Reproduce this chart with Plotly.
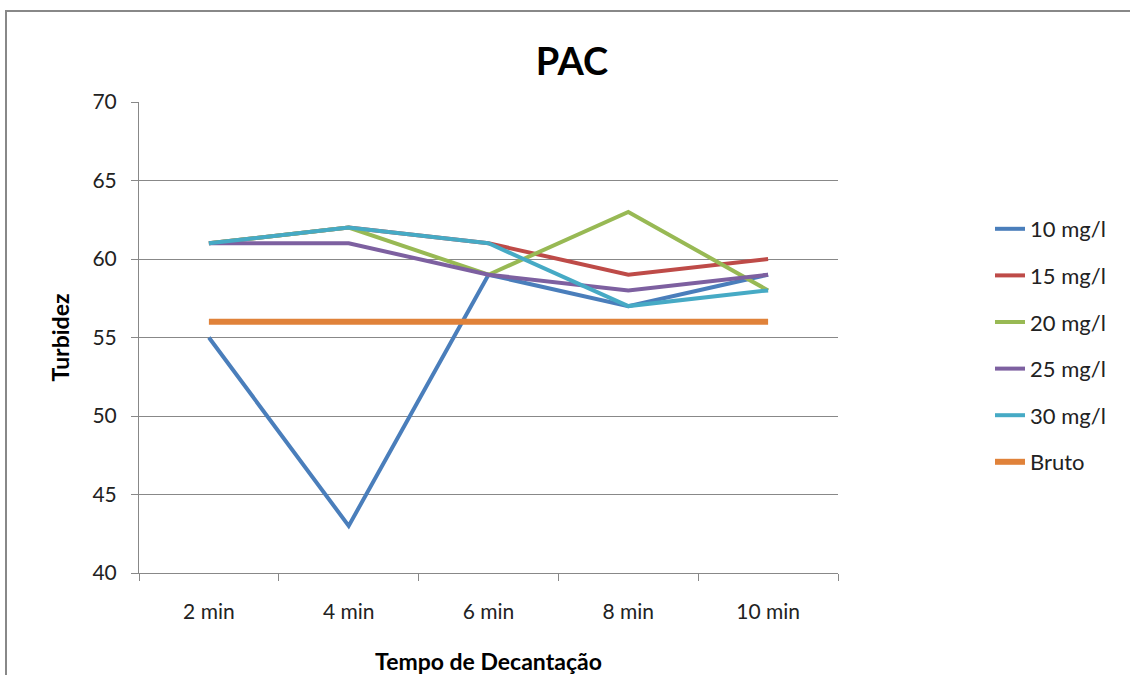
import plotly.graph_objects as go

categories = ["2 min", "4 min", "6 min", "8 min", "10 min"]
s10 = [55, 43, 59, 57, 59]
s15 = [61, 62, 61, 59, 60]
s20 = [61, 62, 59, 63, 58]
s25 = [61, 61, 59, 58, 59]
s30 = [61, 62, 61, 57, 58]
bruto = [56, 56, 56, 56, 56]

series = [
    ("10 mg/l", s10, "#4a7ebb", 4),
    ("15 mg/l", s15, "#be4b48", 4),
    ("20 mg/l", s20, "#98b954", 4),
    ("25 mg/l", s25, "#7d60a0", 4),
    ("30 mg/l", s30, "#46aac5", 4),
    ("Bruto", bruto, "#e0823a", 6),
]

FONT = "Lato, Carlito, 'Liberation Sans', sans-serif"

fig = go.Figure()
for i, (name, vals, color, w) in enumerate(series):
    fig.add_trace(go.Scatter(
        x=categories, y=vals, name=name, mode="lines",
        line=dict(color=color, width=w),
        legendgroup=f"g{i}",
    ))

W, H = 1130, 675
L, R, T, B = 139, 838, 102, 573
pw, ph = R - L, B - T

fig.update_layout(
    width=W, height=H,
    margin=dict(l=L, r=W - R, t=T, b=H - B),
    paper_bgcolor="white", plot_bgcolor="white",
    font=dict(family=FONT, size=21, color="#222"),
    title=dict(text="<b>PAC</b>", x=572 / W, xanchor="center",
               y=1 - 62 / H, yanchor="middle",
               font=dict(size=38, color="#000", family=FONT)),
    showlegend=True,
    legend=dict(x=(990 - L) / pw, xanchor="left", y=(B - 208) / ph, yanchor="top",
                font=dict(size=22, family=FONT, color="#222"),
                tracegroupgap=15, itemwidth=30, bgcolor="rgba(0,0,0,0)"),
    xaxis=dict(
        type="category", range=[-0.5, 4.5], automargin=False,
        showline=True, linecolor="#888", linewidth=1,
        ticks="outside", tickson="boundaries", ticklen=7, tickcolor="#888",
        showgrid=False, zeroline=False,
        ticklabelstandoff=20,
        title=dict(text="<b>Tempo de Decantação</b>", font=dict(size=23, color="#000"), standoff=32),
    ),
    yaxis=dict(
        range=[40, 70], dtick=5, automargin=False,
        showline=True, linecolor="#888", linewidth=1,
        ticks="outside", ticklen=7, tickcolor="#888",
        showgrid=True, gridcolor="#888", gridwidth=1,
        zeroline=False, ticklabelstandoff=10,
        title=dict(text="<b>Turbidez</b>", font=dict(size=23, color="#000"), standoff=16),
    ),
)

# outer chart frame
fig.add_shape(type="rect", xref="paper", yref="paper",
              x0=(6 - L) / pw, x1=(1140 - L) / pw,
              y0=(B - 690) / ph, y1=(B - 11) / ph,
              line=dict(color="#888", width=2), fillcolor="rgba(0,0,0,0)", layer="below")

fig.write_html("out.html")
